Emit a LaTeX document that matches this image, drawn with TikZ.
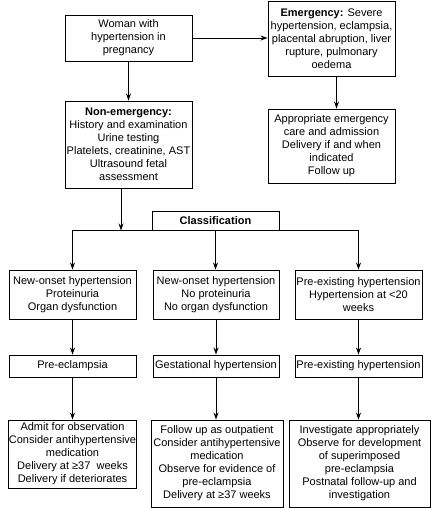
\documentclass[tikz,border=0pt]{standalone}
\usepackage{fontspec}
\setmainfont{Liberation Sans}
\usetikzlibrary{arrows.meta}
\begin{document}
\begin{tikzpicture}[x=1pt,y=-1pt,
  box/.style={draw, line width=0.9pt, align=center, inner sep=0.5pt,
    font=\fontsize{11}{13}\selectfont, anchor=center},
  conn/.style={line width=0.9pt, -{Stealth[length=7pt,width=5pt]}},
  plain/.style={line width=0.9pt}]
\useasboundingbox (0,0) rectangle (440,508);
\node[box, minimum width=127pt, minimum height=46pt] (woman) at (128.5,38) {Woman with\\hypertension in\\pregnancy};
\node[box, minimum width=127pt, minimum height=75pt] (emerg) at (331.5,38.5) {\textbf{Emergency:} Severe\\hypertension, eclampsia,\\placental abruption, liver\\rupture, pulmonary\\oedema};
\node[box, minimum width=127pt, minimum height=87pt] (nonem) at (128.5,144.5) {\textbf{Non-emergency:}\\History and examination\\Urine testing\\Platelets, creatinine, AST\\Ultrasound fetal\\assessment};
\node[box, minimum width=127pt, minimum height=74pt] (approp) at (331.5,146) {Appropriate emergency\\care and admission\\Delivery if and when\\indicated\\Follow up};
\node[box, minimum width=127pt, minimum height=19pt] (classif) at (215.5,220.5) {\textbf{Classification}};
\node[box, minimum width=127pt, minimum height=49pt] (a1) at (72.5,294.5) {New-onset hypertension\\Proteinuria\\Organ dysfunction};
\node[box, minimum width=126pt, minimum height=49pt] (b1) at (216,294.5) {New-onset hypertension\\No proteinuria\\No organ dysfunction};
\node[box, minimum width=127pt, minimum height=49pt] (c1) at (358.5,294.5) {Pre-existing hypertension\\Hypertension at <20\\weeks};
\node[box, minimum width=127pt, minimum height=22pt] (a2) at (72.5,366) {Pre-eclampsia};
\node[box, minimum width=126pt, minimum height=22pt] (b2) at (216,366) {Gestational hypertension};
\node[box, minimum width=127pt, minimum height=22pt] (c2) at (358.5,366) {Pre-existing hypertension};
\node[box, minimum width=127pt, minimum height=68pt] (a3) at (72.5,454) {Admit for observation\\Consider antihypertensive\\medication\\Delivery at ≥37~ weeks\\Delivery if deteriorates};
\node[box, minimum width=132pt, minimum height=87pt] (b3) at (217,463.5) {Follow up as outpatient\\Consider antihypertensive\\medication\\Observe for evidence of\\pre-eclampsia\\Delivery at ≥37 weeks};
\node[box, minimum width=141pt, minimum height=87pt] (c3) at (359.5,463.5) {Investigate appropriately\\Observe for development\\of superimposed\\pre-eclampsia\\Postnatal follow-up and\\investigation};
\draw[conn] (woman.east) -- (woman.east -| emerg.west);
\draw[conn] (woman.south) -- (nonem.north);
\draw[conn] ([xshift=5pt]emerg.south) -- ([xshift=5pt]approp.north);
\coordinate (nb) at ([xshift=-7.5pt]nonem.south);
\draw[conn] (nb) -- (nb |- classif.south);
\draw[plain] (a1.north |- classif.south) -- (c1.north |- classif.south);
\draw[conn] (a1.north |- classif.south) -- (a1.north);
\draw[conn] (classif.south) -- (classif.south |- b1.north);
\draw[conn] (c1.north |- classif.south) -- (c1.north);
\draw[conn] (a1.south) -- (a2.north);
\draw[conn] (b1.south) -- (b2.north);
\draw[conn] (c1.south) -- (c2.north);
\draw[conn] (a2.south) -- (a3.north);
\draw[conn] (b2.south) -- (b2.south |- b3.north);
\draw[conn] (c2.south) -- (c2.south |- c3.north);
\end{tikzpicture}
\end{document}
